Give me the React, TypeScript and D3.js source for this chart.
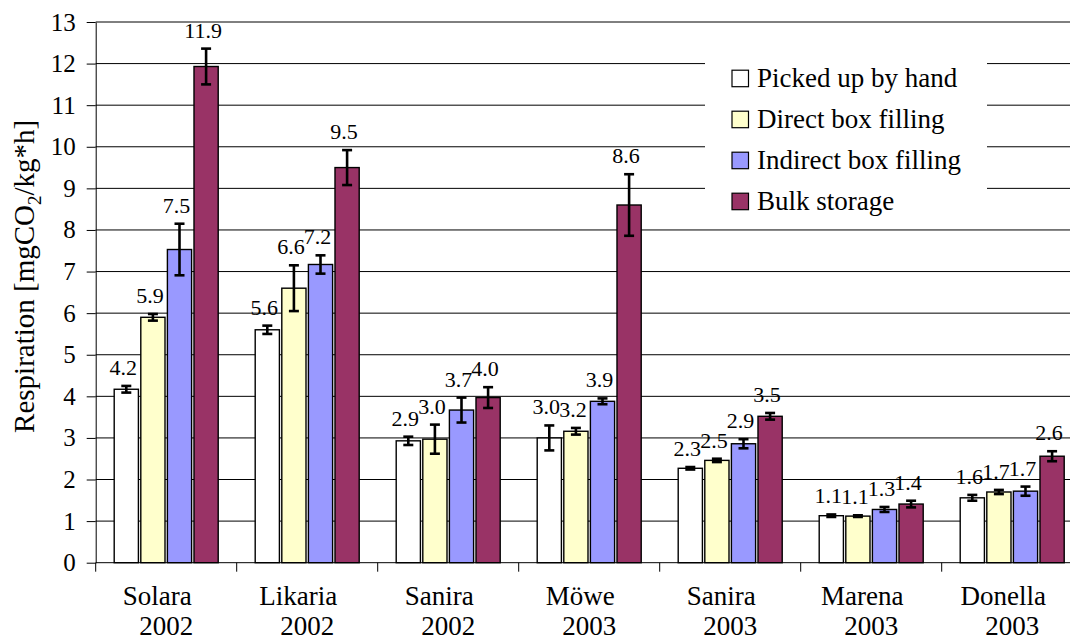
import * as d3 from "d3";
import { useEffect, useRef } from "react";

// cultivars and harvest years (two-line x labels)
const cultivars = ["Solara", "Likaria", "Sanira", "Möwe", "Sanira", "Marena", "Donella"];
const years = ["2002", "2002", "2002", "2003", "2003", "2003", "2003"];

const seriesNames = ["Picked up by hand", "Direct box filling", "Indirect box filling", "Bulk storage"];
const seriesColors = ["#FFFFFF", "#FFFFCC", "#9999FF", "#993366"];

// respiration means
const handValues = [4.17, 5.6, 2.93, 3.0, 2.27, 1.13, 1.56];
const directValues = [5.9, 6.6, 2.97, 3.16, 2.46, 1.12, 1.7];
const indirectValues = [7.53, 7.17, 3.67, 3.88, 2.86, 1.28, 1.72];
const bulkValues = [11.93, 9.5, 3.97, 8.6, 3.52, 1.41, 2.56];

// error bar half-widths
const handErrors = [0.08, 0.1, 0.1, 0.3, 0.03, 0.03, 0.07];
const directErrors = [0.08, 0.55, 0.35, 0.08, 0.04, 0.02, 0.05];
const indirectErrors = [0.62, 0.22, 0.3, 0.07, 0.11, 0.06, 0.11];
const bulkErrors = [0.43, 0.42, 0.25, 0.74, 0.08, 0.08, 0.12];

const yTicks = d3.range(0, 14);

const W = 1070;
const H = 638;
const FONT = "Liberation Serif, Times New Roman, DejaVu Serif, serif";

export default function App() {
    const ref = useRef<SVGSVGElement>(null);

    useEffect(() => {
        const svg = d3.select(ref.current);
        svg.selectAll("*").remove();

        const margin = { top: 22, left: 95.7, bottom: 75.3 };
        const plotRight = margin.left + 7 * 141; // runs past the picture edge

        const values = [handValues, directValues, indirectValues, bulkValues];
        const errors = [handErrors, directErrors, indirectErrors, bulkErrors];

        const x = d3.scaleBand<number>()
            .domain(d3.range(cultivars.length))
            .range([margin.left, plotRight]);

        const xInner = d3.scaleBand<number>()
            .domain(d3.range(seriesNames.length))
            .range([18.5, x.bandwidth() - 18.5])
            .paddingInner(0.09);

        const y = d3.scaleLinear()
            .domain([0, 13])
            .range([H - margin.bottom, margin.top]);

        const fmt = d3.format(".1f");

        // gridlines
        svg.append("g")
            .selectAll("line")
            .data(yTicks.filter((t) => t > 0))
            .join("line")
            .attr("x1", margin.left)
            .attr("x2", plotRight)
            .attr("y1", (d) => y(d))
            .attr("y2", (d) => y(d))
            .attr("stroke", "#000")
            .attr("stroke-width", 1);

        // legend background hides the grid behind it
        svg.append("rect")
            .attr("x", 705)
            .attr("y", 40)
            .attr("width", 282)
            .attr("height", 182)
            .attr("fill", "#fff");

        const data = values.flatMap((vals, s) =>
            vals.map((v, c) => ({ s, c, v, e: errors[s][c] }))
        );
        const bx = (d: { s: number; c: number }) => x(d.c)! + xInner(d.s)!;
        const bw = xInner.bandwidth();

        // bars
        svg.append("g")
            .selectAll("rect")
            .data(data)
            .join("rect")
            .attr("x", bx)
            .attr("y", (d) => y(d.v))
            .attr("width", bw)
            .attr("height", (d) => y(0) - y(d.v))
            .attr("fill", (d) => seriesColors[d.s])
            .attr("stroke", "#000")
            .attr("stroke-width", 1.4);

        // error bars
        const eg = svg.append("g").attr("stroke", "#000").attr("stroke-width", 2.6);
        data.forEach((d) => {
            const cx = bx(d) + bw / 2;
            eg.append("line").attr("x1", cx).attr("x2", cx).attr("y1", y(d.v + d.e)).attr("y2", y(d.v - d.e));
            eg.append("line").attr("x1", cx - 5).attr("x2", cx + 5).attr("y1", y(d.v + d.e)).attr("y2", y(d.v + d.e));
            eg.append("line").attr("x1", cx - 5).attr("x2", cx + 5).attr("y1", y(d.v - d.e)).attr("y2", y(d.v - d.e));
        });

        // value labels
        svg.append("g")
            .selectAll("text")
            .data(data)
            .join("text")
            .attr("x", (d) => bx(d) + bw / 2 - 3)
            .attr("y", (d) => y(d.v + d.e) - 11)
            .attr("text-anchor", "middle")
            .attr("font-family", FONT)
            .attr("font-size", 22)
            .text((d) => fmt(d.v));

        // y axis
        const yAxis = svg.append("g")
            .attr("transform", `translate(${margin.left},0)`)
            .call(d3.axisLeft(y).tickValues(yTicks).tickSize(9).tickPadding(11).tickSizeOuter(0));
        yAxis.attr("font-family", FONT).attr("font-size", 25);
        yAxis.selectAll("line").attr("stroke", "#000");
        yAxis.select(".domain").attr("stroke", "#000");
        yAxis.selectAll("text").attr("fill", "#000");

        // x axis: ticks between categories
        const xAxis = svg.append("g")
            .attr("transform", `translate(0,${y(0)})`);
        xAxis.append("line")
            .attr("x1", margin.left)
            .attr("x2", plotRight)
            .attr("stroke", "#000");
        xAxis.selectAll("line.tick")
            .data(d3.range(cultivars.length + 1))
            .join("line")
            .attr("class", "tick")
            .attr("x1", (i) => margin.left + i * x.step())
            .attr("x2", (i) => margin.left + i * x.step())
            .attr("y1", 0)
            .attr("y2", 9)
            .attr("stroke", "#000");

        const xl = svg.append("g")
            .selectAll("text")
            .data(d3.range(cultivars.length))
            .join("text")
            .attr("text-anchor", "middle")
            .attr("font-family", FONT)
            .attr("font-size", 27);
        xl.append("tspan")
            .attr("x", (i) => x(i)! + x.bandwidth() / 2 - 9)
            .attr("y", 605)
            .text((i) => cultivars[i]);
        xl.append("tspan")
            .attr("x", (i) => x(i)! + x.bandwidth() / 2)
            .attr("y", 635)
            .text((i) => years[i]);

        // y title
        const title = svg.append("text")
            .attr("transform", `translate(34,${(y(0) + y(13)) / 2 - 16}) rotate(-90)`)
            .attr("text-anchor", "middle")
            .attr("font-family", FONT)
            .attr("font-size", 29);
        title.append("tspan").text("Respiration [mgCO");
        title.append("tspan").attr("dy", 7).attr("font-size", 19).text("2");
        title.append("tspan").attr("dy", -7).text("/kg*h]");

        // legend
        const lg = svg.append("g")
            .selectAll("g")
            .data(seriesNames)
            .join("g")
            .attr("transform", (_, i) => `translate(732,${86.7 + i * 41})`);
        lg.append("rect")
            .attr("x", 0)
            .attr("y", -16.5)
            .attr("width", 16.5)
            .attr("height", 16.5)
            .attr("fill", (_, i) => seriesColors[i])
            .attr("stroke", "#000")
            .attr("stroke-width", 1.2);
        lg.append("text")
            .attr("x", 25)
            .attr("y", 0)
            .attr("font-family", FONT)
            .attr("font-size", 27)
            .text((d) => d);
    }, []);

    return (
        <svg
            ref={ref}
            width={W}
            height={H}
            style={{ position: "absolute", left: 0, top: 0, background: "#fff" }}
        />
    );
}
